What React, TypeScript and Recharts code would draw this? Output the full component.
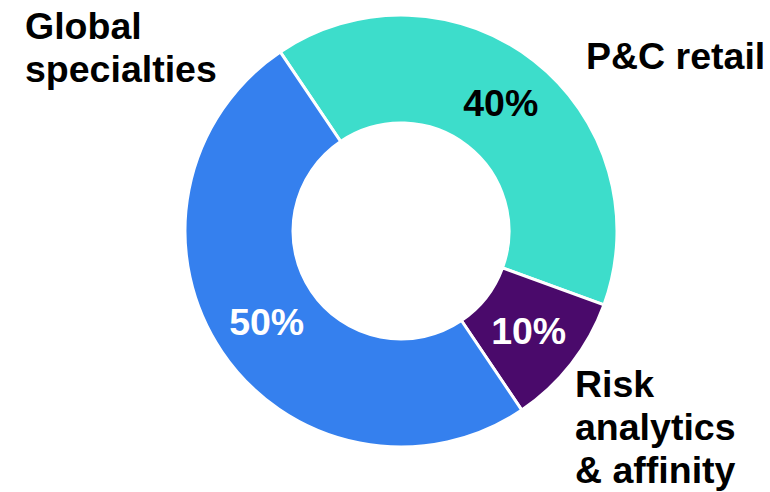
import React from 'react';
import { PieChart, Pie, Cell } from 'recharts';

// segments, listed clockwise starting at the Global specialties / P&C boundary
const segments = ['P&C retail', 'Risk analytics & affinity', 'Global specialties'];
const shares = [40, 10, 50];
const sliceColors = ['#3DDDCB', '#4A0A6B', '#3580EE'];
const pctColors = ['#000000', '#ffffff', '#ffffff'];

// category label lines, drawn outside the ring
const labelLines: Record<string, string[]> = {
  'P&C retail': ['P&C retail'],
  'Risk analytics & affinity': ['Risk', 'analytics', '& affinity'],
  'Global specialties': ['Global', 'specialties'],
};
const labelAnchors: Record<string, { x: number; y: number }> = {
  'P&C retail': { x: 586, y: 69 },
  'Risk analytics & affinity': { x: 575, y: 397 },
  'Global specialties': { x: 25, y: 39 },
};

const data = segments.map((name, i) => ({ name, value: shares[i] }));

const FONT = '"Liberation Sans", Arial, sans-serif';
const FONT_SIZE = 37.5;
const RAD = Math.PI / 180;

const renderLabel = (props: any) => {
  const { cx, cy, midAngle, innerRadius, outerRadius, index, name, value } = props;
  const r = (innerRadius + outerRadius) / 2;
  const x = cx + r * Math.cos(-midAngle * RAD);
  const y = cy + r * Math.sin(-midAngle * RAD);
  const anchor = labelAnchors[name];
  return (
    <g>
      <text
        x={x}
        y={y}
        fill={pctColors[index]}
        textAnchor="middle"
        dominantBaseline="central"
        fontFamily={FONT}
        fontWeight="bold"
        fontSize={FONT_SIZE}
      >
        {`${value}%`}
      </text>
      {labelLines[name].map((line, i) => (
        <text
          key={line}
          x={anchor.x}
          y={anchor.y + i * 43}
          fill="#000"
          fontFamily={FONT}
          fontWeight="bold"
          fontSize={FONT_SIZE}
        >
          {line}
        </text>
      ))}
    </g>
  );
};

export default function App() {
  return (
    <div style={{ position: 'absolute', left: 0, top: 0, width: 770, height: 492, background: '#fff' }}>
      <PieChart width={770} height={492} margin={{ top: 0, right: 0, bottom: 0, left: 0 }}>
        <Pie
          data={data}
          dataKey="value"
          nameKey="name"
          cx={401}
          cy={231}
          innerRadius={108}
          outerRadius={216}
          startAngle={124}
          endAngle={-236}
          stroke="#ffffff"
          strokeWidth={3}
          label={renderLabel}
          labelLine={false}
          isAnimationActive={false}
        >
          {data.map((d, i) => (
            <Cell key={d.name} fill={sliceColors[i]} />
          ))}
        </Pie>
      </PieChart>
    </div>
  );
}
